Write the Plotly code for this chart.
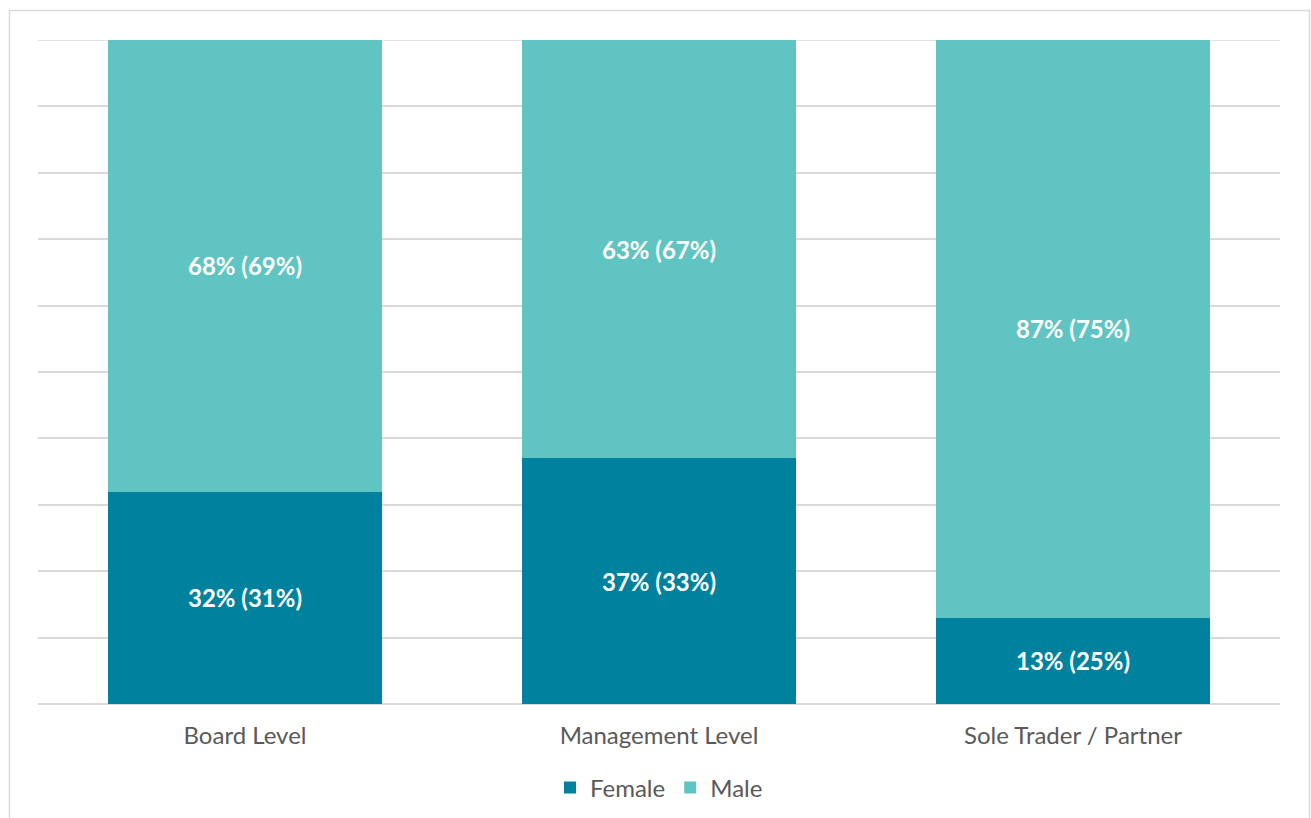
import plotly.graph_objects as go

categories = ["Board Level", "Management Level", "Sole Trader / Partner"]
female = [32, 37, 13]
male = [68, 63, 87]
female_prev = [31, 33, 25]
male_prev = [69, 67, 75]

W, H = 1311, 818
L, R, T, B = 38, 31, 40, 114
pw, ph = W - L - R, H - T - B

label_font = dict(family="Lato", size=24, color="white", weight="bold")

fig = go.Figure()
fig.add_trace(go.Bar(
    x=categories, y=female, name="Female",
    marker=dict(color="#00829F", line=dict(width=0)),
    text=[f"{v}% ({p}%)" for v, p in zip(female, female_prev)],
    textposition="inside", insidetextanchor="middle",
    textfont=label_font, insidetextfont=label_font,
))
fig.add_trace(go.Bar(
    x=categories, y=male, name="Male",
    marker=dict(color="#60C5C2", line=dict(width=0)),
    text=[f"{v}% ({p}%)" for v, p in zip(male, male_prev)],
    textposition="inside", insidetextanchor="middle",
    textfont=label_font, insidetextfont=label_font,
))

# outer chart frame
fig.add_shape(
    type="rect", xref="paper", yref="paper",
    x0=(9.5 - L) / pw, x1=(1309.5 - L) / pw,
    y0=(H - 830 - B) / ph, y1=(H - 10.5 - B) / ph,
    line=dict(color="#D9D9D9", width=1.5), fillcolor="rgba(0,0,0,0)",
    layer="below",
)
# top gridline at 100%
fig.add_shape(
    type="line", xref="paper", yref="y", x0=0, x1=1, y0=100, y1=100,
    line=dict(color="#D9D9D9", width=1.5), layer="below",
)

fig.update_layout(
    width=W, height=H,
    margin=dict(l=L, r=R, t=T, b=B, autoexpand=False),
    barmode="stack", bargap=0.336,
    plot_bgcolor="white", paper_bgcolor="white",
    font=dict(family="Lato", size=24, color="#595959"),
    uniformtext=dict(mode="show", minsize=10),
    xaxis=dict(showgrid=False, showline=False, ticks="outside",
               ticklen=10, tickcolor="rgba(0,0,0,0)", automargin=False,
               tickfont=dict(family="Lato", size=24, color="#595959")),
    yaxis=dict(range=[0, 100], dtick=10, showticklabels=False,
               showgrid=True, gridcolor="#D9D9D9", gridwidth=1.5,
               zeroline=True, zerolinecolor="#D9D9D9", zerolinewidth=1.5),
    legend=dict(orientation="h", x=0.5, xanchor="center",
                y=-(788 - 704) / ph, yanchor="middle",
                font=dict(family="Lato", size=24, color="#595959"),
                itemwidth=30, traceorder="normal"),
)

fig.write_html("out.html")
